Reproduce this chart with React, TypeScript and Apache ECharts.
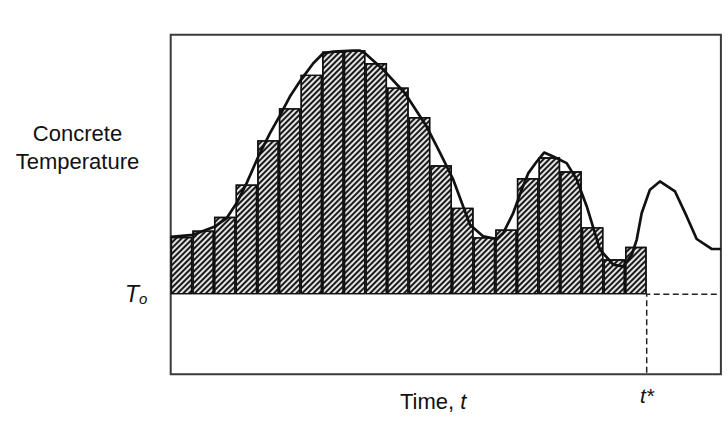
import React, { useEffect, useRef } from "react";
import * as echarts from "echarts";

// Bar (step) heights above T_o, one per time interval
const barCategories = ["1","2","3","4","5","6","7","8","9","10","11","12","13","14","15","16","17","18","19","20","21","22"];
const barValues = [14.4, 16, 19.4, 27.5, 38.6, 46.6, 55, 60.8, 61.1, 57.9, 51.8, 44.4, 32.3, 21.7, 14.3, 16.25, 29.1, 34.3, 30.8, 16.8, 8.75, 11.9];

// Continuous temperature curve: [time, temperature above T_o]
const curveTimes = [0, 1.04, 2.05, 2.59, 3.05, 3.51, 4.05, 4.59, 5.02, 5.51, 6.02, 6.59, 7.05, 7.52, 8.43, 8.75, 8.98, 9.83, 10.83, 11.83, 12.45, 13.06, 13.83, 14.45, 15.07, 15.37, 15.83, 16.22, 16.53, 16.92, 17.26, 17.68, 18.3, 18.77, 19.23, 19.84, 20.46, 20.92, 21.31, 21.54, 21.77, 22.15, 22.61, 23.31, 23.85, 24.31, 25.0, 25.43];
const curveValues = [14.4, 14.9, 17.0, 19.1, 22.85, 27.85, 34.5, 40.35, 44.5, 49.5, 53.7, 57.85, 60.35, 60.75, 61.0, 61.0, 60.35, 56.2, 50.35, 42.0, 35.4, 28.7, 17.4, 14.5, 13.85, 15.35, 20.35, 26.2, 30.35, 33.25, 35.5, 34.5, 32.85, 28.7, 22.0, 11.2, 7.4, 7.0, 9.9, 13.7, 20.35, 26.2, 28.25, 25.75, 19.5, 13.85, 11.35, 11.35];

// Dashed reference lines (T_o continuation and t*)
const dashTimes = [25.24, 22, 22];
const dashValues = [0, 0, -20];

const X_MAX = 25.43;
const Y_MIN = -20;
const Y_MAX = 65;

const FONT = '"Liberation Sans", Arial, Helvetica, sans-serif';

export default function App() {
  const ref = useRef<HTMLDivElement>(null);
  useEffect(() => {
    if (!ref.current) return;
    const chart = echarts.init(ref.current, undefined, { renderer: "svg" });
    const left = 170.7;
    const top = 34.7;
    const height = 339.5;
    const unit = 21.636;
    chart.setOption({
      animation: false,
      backgroundColor: "#ffffff",
      grid: [
        { left, top, width: X_MAX * unit, height, show: true, borderColor: "#3a3a3a", borderWidth: 2, backgroundColor: "transparent" },
        { left, top, width: barCategories.length * unit, height, show: false },
      ],
      xAxis: [
        { type: "value", gridIndex: 0, min: 0, max: X_MAX, show: false },
        { type: "category", gridIndex: 1, data: barCategories, boundaryGap: true, show: false },
      ],
      yAxis: [
        { type: "value", gridIndex: 0, min: Y_MIN, max: Y_MAX, show: false },
        { type: "value", gridIndex: 1, min: Y_MIN, max: Y_MAX, show: false },
      ],
      series: [
        {
          type: "bar",
          xAxisIndex: 1,
          yAxisIndex: 1,
          data: barValues,
          barCategoryGap: "0%",
          barWidth: "100%",
          z: 2,
          itemStyle: {
            color: "#e4e4e4",
            borderColor: "#111",
            borderWidth: 1.4,
            decal: {
              symbol: "rect",
              symbolSize: 1,
              color: "#1a1a1a",
              dashArrayX: [1, 0],
              dashArrayY: [1.4, 1.3],
              rotation: -Math.PI / 4,
            },
          },
        },
        {
          type: "line",
          xAxisIndex: 0,
          yAxisIndex: 0,
          data: dashTimes.map((t, i) => [t, dashValues[i]]),
          symbol: "none",
          z: 3,
          lineStyle: { color: "#222", width: 1.5, type: [6, 3.5] },
        },
        {
          type: "line",
          xAxisIndex: 0,
          yAxisIndex: 0,
          data: curveTimes.map((t, i) => [t, curveValues[i]]),
          symbol: "none",
          z: 4,
          clip: false,
          lineStyle: { color: "#111", width: 2.7, join: "round" },
        },
      ],
      graphic: [
        {
          type: "text",
          x: 77.5,
          y: 133.8,
          style: { text: "Concrete", font: `22px ${FONT}`, fill: "#111", align: "center", verticalAlign: "middle", textAlign: "center", textVerticalAlign: "middle" },
        },
        {
          type: "text",
          x: 77.5,
          y: 161.4,
          style: { text: "Temperature", font: `22px ${FONT}`, fill: "#111", align: "center", verticalAlign: "middle", textAlign: "center", textVerticalAlign: "middle" },
        },
        {
          type: "text",
          x: 125,
          y: 294,
          style: {
            text: "{T|T}{o|o}",
            fontSize: 23,
            fontFamily: FONT,
            fill: "#111",
            align: "left",
            verticalAlign: "middle",
            textAlign: "left",
            textVerticalAlign: "middle",
            rich: {
              T: { fontStyle: "italic", fontSize: 23, fontFamily: FONT, fill: "#111", lineHeight: 23 },
              o: { fontStyle: "italic", fontSize: 15, fontFamily: FONT, fill: "#111", verticalAlign: "bottom", lineHeight: 15 },
            },
          },
        },
        {
          type: "text",
          x: 400,
          y: 401,
          style: {
            text: "Time, {i|t}",
            fontSize: 22,
            fontFamily: FONT,
            fill: "#111",
            align: "left",
            verticalAlign: "middle",
            textAlign: "left",
            textVerticalAlign: "middle",
            rich: { i: { fontStyle: "italic", fontSize: 22, fontFamily: FONT, fill: "#111" } },
          },
        },
        {
          type: "text",
          x: 647,
          y: 395,
          style: { text: "t*", font: `italic 21px ${FONT}`, fill: "#111", align: "center", verticalAlign: "middle", textAlign: "center", textVerticalAlign: "middle" },
        },
      ],
    });
    return () => chart.dispose();
  }, []);
  return (
    <div
      ref={ref}
      style={{ position: "fixed", left: 0, top: 0, width: 728, height: 426, background: "#fff" }}
    />
  );
}
